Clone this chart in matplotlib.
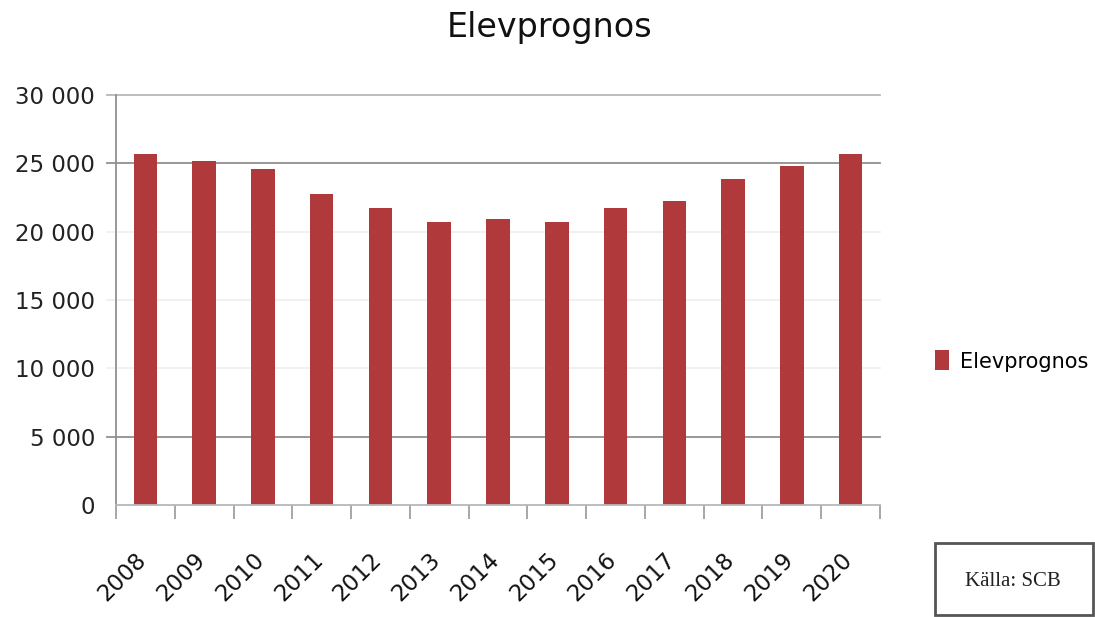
import matplotlib
matplotlib.use("Agg")
import matplotlib.pyplot as plt
from matplotlib.patches import Rectangle
from matplotlib.ticker import FuncFormatter, FixedLocator
import matplotlib.transforms as mtransforms
import numpy as np

years = ["2008", "2009", "2010", "2011", "2012", "2013", "2014",
         "2015", "2016", "2017", "2018", "2019", "2020"]
values = [25700, 25200, 24600, 22750, 21700, 20700, 20900,
          20700, 21700, 22250, 23850, 24800, 25700]
series_name = "Elevprognos"
title = "Elevprognos"
source = "Källa: SCB"
y_ticks = [0, 5000, 10000, 15000, 20000, 25000, 30000]

plt.rcParams['font.family'] = ['DejaVu Sans']

fig = plt.figure(figsize=(10.95, 6.17), dpi=100)
ax = fig.add_axes([116/1095, 1-505/617, (880-116)/1095, (505-95)/617])

x = np.arange(len(years))
bar_color = '#B0393C'
ax.bar(x, values, width=0.4, color=bar_color, zorder=3, label=series_name)

ax.set_xlim(-0.5, len(years) - 0.5)
ax.set_ylim(0, 30000)
ax.set_yticks(y_ticks)
ax.yaxis.set_major_formatter(FuncFormatter(lambda v, p: f"{int(v):,}".replace(",", " ")))

grid_colors = {5000: '#909090', 10000: '#f0f0f0', 15000: '#f0f0f0',
               20000: '#f0f0f0', 25000: '#909090', 30000: '#b8b8b8'}
for yv in y_ticks[1:]:
    ax.axhline(yv, xmin=-0.012, xmax=1, color=grid_colors[yv], lw=1.3,
               zorder=1, clip_on=False)

for s in ['top', 'right']:
    ax.spines[s].set_visible(False)
ax.spines['left'].set_color('#909090')
ax.spines['left'].set_linewidth(1.3)
ax.spines['bottom'].set_color('#b8b8b8')
ax.spines['bottom'].set_linewidth(1.3)
ax.spines['bottom'].set_zorder(4)

ax.tick_params(axis='y', length=0, pad=15, labelsize=16.5, labelcolor='#222222')

ax.set_xticks(x)
ax.set_xticklabels(years, rotation=45, ha='right', va='top', fontsize=16.5)
ax.tick_params(axis='x', which='major', length=0, pad=31, labelcolor='#111111')
offset = mtransforms.ScaledTranslation(6/100, 0, fig.dpi_scale_trans)
for lab in ax.get_xticklabels():
    lab.set_transform(lab.get_transform() + offset)
ax.xaxis.set_minor_locator(FixedLocator(np.arange(-0.5, len(years), 1.0)))
ax.tick_params(axis='x', which='minor', length=10, width=1.3, color='#a0a0a0')

fig.text(550/1095, 1-27/617, title, ha='center', va='center',
         fontsize=24, color='#111111')

ax.legend(loc='center left', bbox_to_anchor=(916/1095, 1-361/617),
          bbox_transform=fig.transFigure, frameon=False, fontsize=15,
          handlelength=0.7, handleheight=1.1, handletextpad=0.5)

fig.patches.append(Rectangle((935/1095, 1-615/617), 158/1095, 72/617,
                             transform=fig.transFigure, facecolor='white',
                             edgecolor='#555555', lw=2))
fig.text(1013/1095, 1-582/617, source, ha='center', va='center',
         fontsize=15, family='Liberation Serif', color='#222222')

fig.savefig("out.png", dpi=100)
